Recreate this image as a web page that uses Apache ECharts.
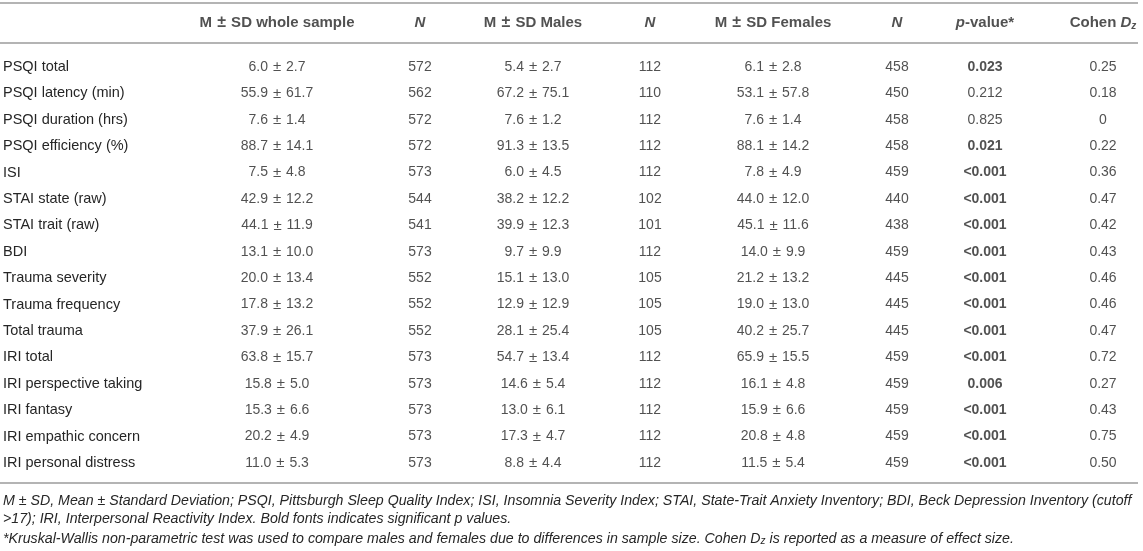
<!DOCTYPE html>
<html>
<head>
<meta charset="utf-8">
<script src="https://cdn.jsdelivr.net/npm/echarts@6/dist/echarts.min.js"></script>
<style>
  html, body { margin: 0; padding: 0; background: #ffffff; }
  #main { width: 1143px; height: 551px; }
</style>
</head>
<body>
<div id="main"></div>
<script>
// table rows
const rowLabels = [
  'PSQI total', 'PSQI latency (min)', 'PSQI duration (hrs)', 'PSQI efficiency (%)', 'ISI',
  'STAI state (raw)', 'STAI trait (raw)', 'BDI', 'Trauma severity', 'Trauma frequency',
  'Total trauma', 'IRI total', 'IRI perspective taking', 'IRI fantasy',
  'IRI empathic concern', 'IRI personal distress'
];
// whole sample
const meanAll = [6.0, 55.9, 7.6, 88.7, 7.5, 42.9, 44.1, 13.1, 20.0, 17.8, 37.9, 63.8, 15.8, 15.3, 20.2, 11.0];
const sdAll = [2.7, 61.7, 1.4, 14.1, 4.8, 12.2, 11.9, 10.0, 13.4, 13.2, 26.1, 15.7, 5.0, 6.6, 4.9, 5.3];
const nAll = [572, 562, 572, 572, 573, 544, 541, 573, 552, 552, 552, 573, 573, 573, 573, 573];
// males
const meanMale = [5.4, 67.2, 7.6, 91.3, 6.0, 38.2, 39.9, 9.7, 15.1, 12.9, 28.1, 54.7, 14.6, 13.0, 17.3, 8.8];
const sdMale = [2.7, 75.1, 1.2, 13.5, 4.5, 12.2, 12.3, 9.9, 13.0, 12.9, 25.4, 13.4, 5.4, 6.1, 4.7, 4.4];
const nMale = [112, 110, 112, 112, 112, 102, 101, 112, 105, 105, 105, 112, 112, 112, 112, 112];
// females
const meanFemale = [6.1, 53.1, 7.6, 88.1, 7.8, 44.0, 45.1, 14.0, 21.2, 19.0, 40.2, 65.9, 16.1, 15.9, 20.8, 11.5];
const sdFemale = [2.8, 57.8, 1.4, 14.2, 4.9, 12.0, 11.6, 9.9, 13.2, 13.0, 25.7, 15.5, 4.8, 6.6, 4.8, 5.4];
const nFemale = [458, 450, 458, 458, 459, 440, 438, 459, 445, 445, 445, 459, 459, 459, 459, 459];
// tests
const pValues = ['0.023', '0.212', '0.825', '0.021', '<0.001', '<0.001', '<0.001', '<0.001',
  '<0.001', '<0.001', '<0.001', '<0.001', '0.006', '<0.001', '<0.001', '<0.001'];
const cohenDz = ['0.25', '0.18', '0', '0.22', '0.36', '0.47', '0.42', '0.43',
  '0.46', '0.46', '0.47', '0.72', '0.27', '0.43', '0.75', '0.50'];

// header labels (rich text)
const headers = [
  '{b|M }{bpm|±}{b| SD whole sample}', '{bi|N}', '{b|M }{bpm|±}{b| SD Males}', '{bi|N}',
  '{b|M }{bpm|±}{b| SD Females}', '{bi|N}', '{bi|p}{b|-value*}', '{b|Cohen }{bi|D}{sub|z}'
];

const footnotes = [
  'M ± SD, Mean ± Standard Deviation; PSQI, Pittsburgh Sleep Quality Index; ISI, Insomnia Severity Index; STAI, State-Trait Anxiety Inventory; BDI, Beck Depression Inventory (cutoff',
  '>17); IRI, Interpersonal Reactivity Index. Bold fonts indicates significant p values.',
  '*Kruskal-Wallis non-parametric test was used to compare males and females due to differences in sample size. Cohen D{sub|z} is reported as a measure of effect size.'
];

// layout
const colX = [277, 420, 533, 650, 773, 897, 985, 1103];
const W = 1143;
const FONT = '"Liberation Sans", Arial, Helvetica, sans-serif';
const INK = '#262626';
const RULE = '#b4b4b4';

const fmt = (m, s) => '{n|' + m.toFixed(1) + ' }{pm|±}{n| ' + s.toFixed(1) + '}';
const isSig = p => p.charAt(0) === '<' || parseFloat(p) < 0.05;

const richStyles = {
  n: { fontFamily: FONT, fontSize: 14, color: INK },
  pm: { fontFamily: FONT, fontSize: 15, color: INK, padding: [0, 1, 0, 1] },
  b: { fontFamily: FONT, fontSize: 15, fontWeight: 'bold', color: INK },
  bpm: { fontFamily: FONT, fontSize: 16, fontWeight: 'bold', color: INK, padding: [0, 1, 0, 1] },
  pb: { fontFamily: FONT, fontSize: 14, fontWeight: 'bold', color: INK },
  bi: { fontFamily: FONT, fontSize: 15, fontWeight: 'bold', fontStyle: 'italic', color: INK },
  sub: { fontFamily: FONT, fontSize: 10, fontWeight: 'bold', fontStyle: 'italic', color: INK, padding: [6, 0, 0, 0] }
};

// one text column of the body
function columnCells(c) {
  return rowLabels.map((r, i) => {
    let text;
    if (c === 0) text = fmt(meanAll[i], sdAll[i]);
    else if (c === 1) text = '{n|' + nAll[i] + '}';
    else if (c === 2) text = fmt(meanMale[i], sdMale[i]);
    else if (c === 3) text = '{n|' + nMale[i] + '}';
    else if (c === 4) text = fmt(meanFemale[i], sdFemale[i]);
    else if (c === 5) text = '{n|' + nFemale[i] + '}';
    else if (c === 6) text = isSig(pValues[i]) ? '{pb|' + pValues[i] + '}' : '{n|' + pValues[i] + '}';
    else text = '{n|' + cohenDz[i] + '}';
    return { value: [colX[c], r], text: text };
  });
}

const textSeries = (data, xi, yi) => ({
  type: 'scatter',
  xAxisIndex: xi,
  yAxisIndex: yi,
  symbolSize: 1,
  silent: true,
  itemStyle: { color: 'rgba(0,0,0,0)' },
  label: {
    show: true,
    position: 'inside',
    fontFamily: FONT,
    fontSize: 14,
    color: INK,
    formatter: p => p.data.text,
    rich: richStyles
  },
  data: data
});

const series = [];
// header row
series.push(textSeries(headers.map((h, c) => ({ value: [colX[c], 'head'], text: h })), 0, 0));
// body columns
for (let c = 0; c < colX.length; c++) {
  series.push(textSeries(columnCells(c), 1, 1));
}

const rowH = 26.4;
const bodyTop = 67 - rowH / 2;

const option = {
  backgroundColor: '#ffffff',
  animation: false,
  grid: [
    { left: 0, right: 0, top: 3, height: 40 },
    { left: 0, right: 0, top: bodyTop, height: rowH * rowLabels.length }
  ],
  xAxis: [
    { type: 'value', gridIndex: 0, min: 0, max: W, show: false },
    { type: 'value', gridIndex: 1, min: 0, max: W, show: false }
  ],
  yAxis: [
    { type: 'category', gridIndex: 0, data: ['head'], show: false },
    {
      type: 'category',
      gridIndex: 1,
      data: rowLabels,
      inverse: true,
      axisLine: { show: false },
      axisTick: { show: false },
      splitLine: { show: false },
      axisLabel: {
        inside: true,
        margin: 3,
        fontFamily: FONT,
        fontSize: 14.5,
        color: INK
      }
    }
  ],
  series: series,
  graphic: [
    { type: 'line', shape: { x1: 0, y1: 3, x2: 1138, y2: 3 }, style: { stroke: RULE, lineWidth: 2 } },
    { type: 'line', shape: { x1: 0, y1: 43, x2: 1138, y2: 43 }, style: { stroke: RULE, lineWidth: 2 } },
    { type: 'line', shape: { x1: 0, y1: 483, x2: 1138, y2: 483 }, style: { stroke: RULE, lineWidth: 2 } }
  ].concat(footnotes.map((t, k) => ({
    type: 'text',
    left: 3,
    top: [494, 512, 532][k],
    style: {
      text: t,
      font: 'italic 14.2px ' + FONT,
      fill: INK,
      rich: {
        sub: { fontFamily: FONT, fontStyle: 'italic', fontSize: 10, fill: INK, padding: [5, 0, 0, 0] }
      }
    }
  })))
};

const chart = echarts.init(document.getElementById('main'));
chart.setOption(option);
</script>
</body>
</html>
